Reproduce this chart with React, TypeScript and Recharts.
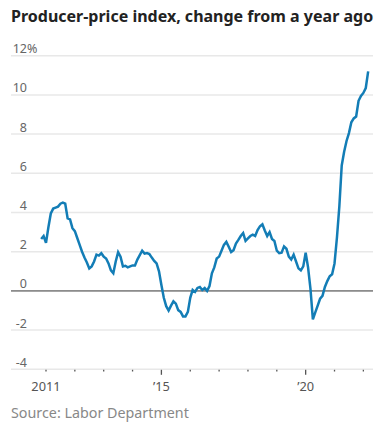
import { LineChart, Line, XAxis, YAxis, CartesianGrid, ReferenceLine } from 'recharts'

// monthly y/y change, starting November 2010
const startYear = 2010
const startMonth = 10 // 0-based, November

const ppi2010 = [2.65, 2.8]
const ppi2011 = [2.45, 3.25, 3.95, 4.2, 4.25, 4.3, 4.45, 4.5, 4.45, 3.7, 3.65, 3.2]
const ppi2012 = [3.05, 2.7, 2.35, 2.0, 1.7, 1.45, 1.15, 1.25, 1.5, 1.85, 1.8, 1.92]
const ppi2013 = [1.75, 1.65, 1.4, 1.05, 0.9, 1.5, 1.98, 1.75, 1.25, 1.28, 1.2, 1.25]
const ppi2014 = [1.3, 1.3, 1.6, 1.82, 2.05, 1.9, 1.93, 1.88, 1.7, 1.53, 1.4, 1.0]
const ppi2015 = [0.3, -0.35, -0.78, -1.0, -0.75, -0.53, -0.65, -0.98, -1.07, -1.3, -1.3, -1.07]
const ppi2016 = [-0.35, 0.05, -0.05, 0.15, 0.2, 0.05, 0.15, 0.0, 0.25, 0.9, 1.2, 1.65]
const ppi2017 = [1.75, 2.05, 2.35, 2.5, 2.25, 1.98, 2.08, 2.42, 2.6, 2.8, 2.95, 2.55]
const ppi2018 = [2.68, 2.8, 2.87, 2.8, 3.1, 3.3, 3.4, 3.08, 2.8, 3.0, 2.65, 2.55]
const ppi2019 = [2.05, 1.93, 1.95, 2.27, 2.15, 1.75, 1.6, 1.85, 1.5, 1.15, 1.05, 1.25]
const ppi2020 = [1.95, 1.2, 0.1, -1.45, -1.1, -0.75, -0.4, -0.25, 0.2, 0.5, 0.75, 0.85]
const ppi2021 = [1.4, 2.7, 4.3, 6.4, 7.1, 7.65, 8.05, 8.6, 8.8, 8.9, 9.7, 9.95]
const ppi2022 = [10.1, 10.35, 11.2]

const yearTicks = [2011, 2012, 2013, 2014, 2015, 2016, 2017, 2018, 2019, 2020, 2021, 2022]
const yearLabels: Record<number, string> = { 2011: '2011', 2015: '\u201915', 2020: '\u201920' }
const yTicks = [-4, -2, 0, 2, 4, 6, 8, 10, 12]

const values = [
  ...ppi2010, ...ppi2011, ...ppi2012, ...ppi2013, ...ppi2014, ...ppi2015,
  ...ppi2016, ...ppi2017, ...ppi2018, ...ppi2019, ...ppi2020, ...ppi2021, ...ppi2022,
]
const data = values.map((v, i) => ({ t: startYear + (startMonth + i) / 12, v }))

const FONT = '"Noto Sans", sans-serif'
const PLOT_TOP = 55.7
const PLOT_BOTTOM = 369.3
const X_AXIS_H = 30
const Y_AXIS_W = 11

function YTick({ y, payload }: any) {
  const top = payload.value === 12
  return (
    <g>
      <text x={27} y={y - 2.5} textAnchor="end" fontSize={12.5} fill="#666" fontFamily={FONT}>
        {payload.value}
      </text>
      {top && (
        <text x={27} y={y - 2.5} textAnchor="start" fontSize={12.5} fill="#666" fontFamily={FONT}>
          %
        </text>
      )}
    </g>
  )
}

function XTick({ x, payload }: any) {
  const label = yearLabels[payload.value]
  const major = payload.value === 2015 || payload.value === 2020
  return (
    <g>
      <line
        x1={x}
        x2={x}
        y1={PLOT_BOTTOM + 0.5}
        y2={major ? PLOT_BOTTOM + 5.5 : PLOT_BOTTOM + 2.2}
        stroke="#555"
        strokeWidth={1.3}
      />
      {label && (
        <text x={x} y={390.7} textAnchor="middle" fontSize={12.8} fill="#555" fontFamily={FONT}>
          {label}
        </text>
      )}
    </g>
  )
}

export default function App() {
  return (
    <div style={{ position: 'absolute', left: 0, top: 0, width: 385, height: 435, background: '#fff' }}>
      <div
        style={{
          position: 'absolute',
          left: 11,
          top: 5,
          fontFamily: FONT,
          fontWeight: 700,
          fontSize: 16,
          color: '#222',
          whiteSpace: 'nowrap',
        }}
      >
        Producer-price index, change from a year ago
      </div>
      <div style={{ position: 'absolute', left: 0, top: 0 }}>
        <LineChart
          width={385}
          height={435}
          data={data}
          margin={{ top: PLOT_TOP, right: 12, left: 11 - Y_AXIS_W, bottom: 435 - PLOT_BOTTOM - X_AXIS_H }}
        >
          <CartesianGrid vertical={false} stroke="#e8e8e8" strokeWidth={1.5} />
          <XAxis
            dataKey="t"
            type="number"
            domain={[2009.787, 2022.334]}
            ticks={yearTicks}
            height={X_AXIS_H}
            axisLine={false}
            tickLine={false}
            tick={<XTick />}
            interval={0}
            allowDataOverflow
          />
          <YAxis
            type="number"
            domain={[-4, 12]}
            ticks={yTicks}
            width={Y_AXIS_W}
            axisLine={false}
            tickLine={false}
            tick={<YTick />}
            interval={0}
          />
          <ReferenceLine y={0} stroke="#8c8c8c" strokeWidth={1.6} />
          <Line
            type="linear"
            dataKey="v"
            stroke="#137db6"
            strokeWidth={2.5}
            dot={false}
            isAnimationActive={false}
          />
        </LineChart>
      </div>
      <div
        style={{
          position: 'absolute',
          left: 11,
          top: 403,
          fontFamily: FONT,
          fontSize: 14.3,
          color: '#888',
          whiteSpace: 'nowrap',
        }}
      >
        Source: Labor Department
      </div>
    </div>
  )
}
